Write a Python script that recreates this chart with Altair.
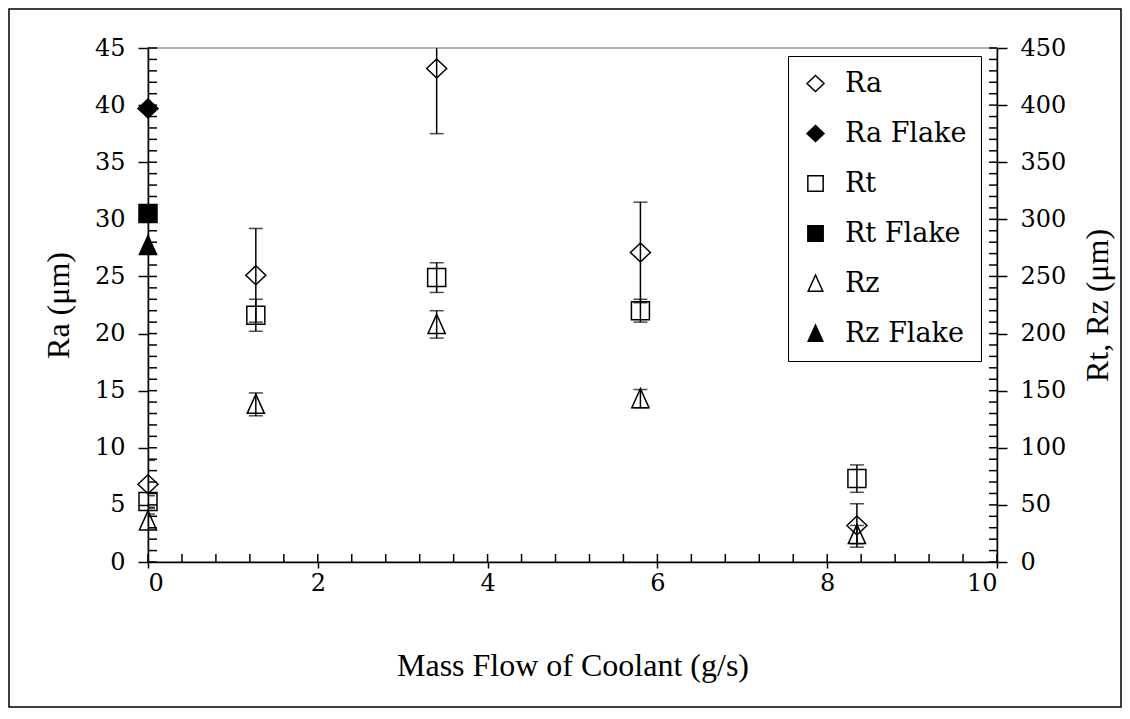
import altair as alt
import pandas as pd

FONT = "Liberation Serif"
LABEL_FONT = "DejaVu Serif"
W, H = 849, 514

# ---- data ----
flow = [0.0, 1.27, 3.4, 5.8, 8.35]
ra = [6.8, 25.1, 43.2, 27.1, 3.2]
ra_err = [2.1, 4.1, 5.7, 4.4, 1.9]
rt = [53, 216, 249, 220, 73]
rt_err = [5, 14, 13, 10, 12]
rz = [36, 138, 208, 143, 24]
rz_err = [6, 10, 12, 8, 8]

flake_flow = [0.0]
ra_flake = [39.7]
rt_flake = [305]
rz_flake = [277]

series_order = ["Ra", "Ra Flake", "Rt", "Rt Flake", "Rz", "Rz Flake"]
DIAMOND = "M-1,0L0,-0.95L1,0L0,0.95Z"
SQUARE = "M-0.9,-0.9L0.9,-0.9L0.9,0.9L-0.9,0.9Z"
TRIANGLE = "M0,-1L-0.86,0.9L0.86,0.9Z"
series_shapes = [DIAMOND, DIAMOND, SQUARE, SQUARE, TRIANGLE, TRIANGLE]
series_fills = ["transparent", "black", "transparent", "black", "transparent", "black"]
series_strokes = ["black"] * 6

x_ticks = [0, 2, 4, 6, 8, 10]
left_ticks = [0, 5, 10, 15, 20, 25, 30, 35, 40, 45]
right_ticks = [0, 50, 100, 150, 200, 250, 300, 350, 400, 450]
x_minor = [round(0.4 * i, 1) for i in range(26)]
left_minor = list(range(0, 46))
right_minor = list(range(0, 451, 10))


def rows(name, xs, vals, errs=None):
    out = []
    for i, (x, v) in enumerate(zip(xs, vals)):
        e = errs[i] if errs else 0
        out.append({"series": name, "x": x, "value": v, "lo": v - e, "hi": v + e})
    return out


left_pts = pd.DataFrame(rows("Ra", flow, ra, ra_err) + rows("Ra Flake", flake_flow, ra_flake))
right_pts = pd.DataFrame(
    rows("Rt", flow, rt, rt_err) + rows("Rt Flake", flake_flow, rt_flake)
    + rows("Rz", flow, rz, rz_err) + rows("Rz Flake", flake_flow, rz_flake)
)
left_err = left_pts[~left_pts["series"].str.contains("Flake")]
right_err = right_pts[~right_pts["series"].str.contains("Flake")]

# ---- scales / axes ----
x_scale = alt.Scale(domain=[0, 10], nice=False, zero=False)
x_axis = alt.Axis(values=x_ticks, format="d", tickSize=6, labelPadding=3,
                  labelFont=LABEL_FONT, labelFontSize=24, titleFont=FONT,
                  titleX=W / 2, titleY=103, titleAlign="center", titleBaseline="middle")
X_TITLE = "Mass Flow of Coolant (g/s)"


def xe(field):
    return alt.X(f"{field}:Q", scale=x_scale, axis=x_axis, title=X_TITLE)


yl_scale = alt.Scale(domain=[0, 45], nice=False, zero=False)
yl_axis = alt.Axis(values=left_ticks, orient="left", tickSize=10, labelPadding=13,
                   labelFont=LABEL_FONT, labelFontSize=24, titleFont=FONT,
                   titleAngle=270, titleX=-90, titleY=H / 2,
                   titleAlign="center", titleBaseline="middle")
YL_TITLE = "Ra (\u03bcm)"


def yl(field):
    return alt.Y(f"{field}:Q", scale=yl_scale, axis=yl_axis, title=YL_TITLE)


yr_scale = alt.Scale(domain=[0, 450], nice=False, zero=False)
yr_axis = alt.Axis(values=right_ticks, orient="right", tickSize=10, labelPadding=13,
                   labelFont=LABEL_FONT, labelFontSize=24, titleFont=FONT,
                   titleAngle=270, titleX=100, titleY=H / 2,
                   titleAlign="center", titleBaseline="middle")
YR_TITLE = "Rt, Rz (\u03bcm)"


def yr(field):
    return alt.Y(f"{field}:Q", scale=yr_scale, axis=yr_axis, title=YR_TITLE)


legend = alt.Legend(title=None, orient="none", legendX=640, legendY=8,
                    strokeColor="black", fillColor="white", padding=14,
                    rowPadding=22, labelOffset=16, symbolSize=290,
                    symbolStrokeWidth=1.5, symbolStrokeColor="black",
                    labelFont=LABEL_FONT, labelFontSize=27, labelColor="black",
                    cornerRadius=0)
shape_enc = alt.Shape("series:N", scale=alt.Scale(domain=series_order, range=series_shapes), legend=legend)
fill_enc = alt.Fill("series:N", scale=alt.Scale(domain=series_order, range=series_fills), legend=legend)
stroke_enc = alt.Stroke("series:N", scale=alt.Scale(domain=series_order, range=series_strokes), legend=legend)


def group(pts, err, ye, minor, inner_x):
    minor_df = pd.DataFrame({"v": minor})
    minor_rules = alt.Chart(minor_df).mark_rule(color="black", strokeWidth=1.5).encode(
        y=ye("v"), x=alt.value(inner_x[0]), x2=alt.value(inner_x[1]))
    bars = alt.Chart(err).mark_rule(color="black", strokeWidth=1.5, clip=True).encode(
        x=xe("x"), y=ye("lo"), y2="hi")
    cap_lo = alt.Chart(err).mark_tick(color="black", orient="horizontal", size=14,
                                      thickness=1.5, clip=True).encode(x=xe("x"), y=ye("lo"))
    cap_hi = alt.Chart(err).mark_tick(color="black", orient="horizontal", size=14,
                                      thickness=1.5, clip=True).encode(x=xe("x"), y=ye("hi"))
    points = alt.Chart(pts).mark_point(filled=True, size=400,
                                       strokeWidth=1.5, opacity=1).encode(
        x=xe("x"), y=ye("value"), shape=shape_enc, fill=fill_enc, stroke=stroke_enc)
    return alt.layer(minor_rules, bars, cap_lo, cap_hi, points)


left = group(left_pts, left_err, yl, left_minor, (0, 9))
right = group(right_pts, right_err, yr, right_minor, (W - 8, W))

x_minor_rules = alt.Chart(pd.DataFrame({"v": x_minor})).mark_rule(
    color="black", strokeWidth=1.5).encode(x=xe("v"), y=alt.value(H - 8), y2=alt.value(H))

frame = alt.Chart(pd.DataFrame({"a": [0]})).mark_rect(
    fill="transparent", stroke="black", strokeWidth=1.5, clip=False).encode(
    x=alt.value(-139), x2=alt.value(W + 124), y=alt.value(-39), y2=alt.value(H + 145))

chart = alt.layer(frame, left, right, x_minor_rules).resolve_scale(
    y="independent"
).properties(
    width=W, height=H,
    autosize=alt.AutoSizeParams(type="none"),
    padding={"left": 140, "top": 40, "right": 125, "bottom": 146},
    background="white",
).configure_view(
    stroke="#999999", strokeWidth=1.5
).configure_axis(
    grid=False, domainColor="black", domainWidth=1.5, tickColor="black", tickWidth=1.5,
    labelColor="black",
    titleFont=FONT, titleFontSize=32, titleFontWeight="normal", titleColor="black",
)

chart.save("out.html", embed_options={"renderer": "svg", "actions": False})
